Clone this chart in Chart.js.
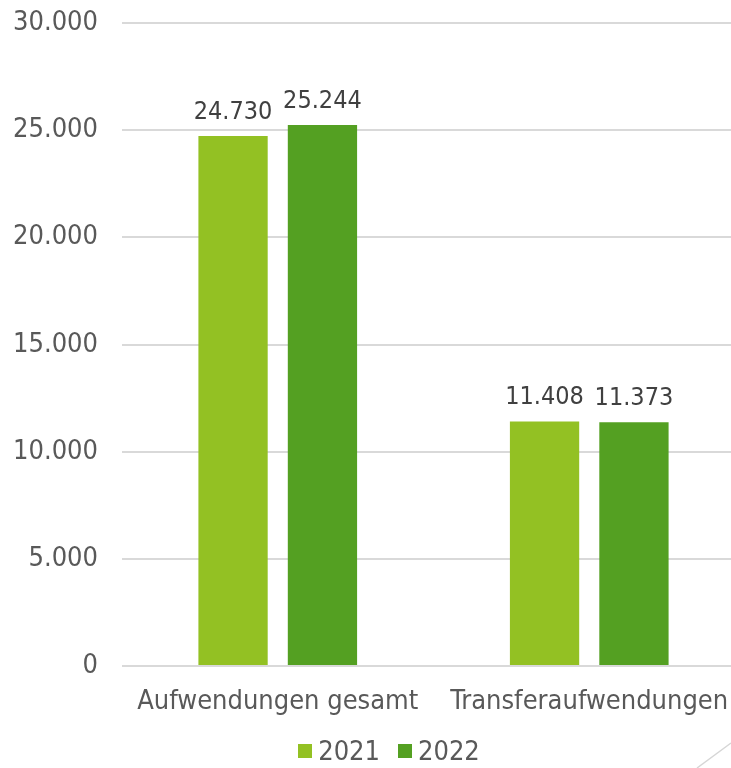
<!DOCTYPE html>
<html>
<head>
<meta charset="utf-8">
<script src="https://cdn.jsdelivr.net/npm/chart.js@4"></script>
<style>
	html, body { margin: 0; padding: 0; background: #fff; overflow: hidden; }
	#wrap { position: relative; width: 778px; height: 768px; }
	#legend { position: absolute; left: 0; top: 735px; width: 778px; display: flex; justify-content: center; font-family: "DejaVu Sans Condensed", "DejaVu Sans", sans-serif; font-size: 27px; color: #595959; }
	#legend span.item { display: flex; align-items: center; margin: 0 9px; }
	#legend span.box { width: 14px; height: 14px; margin-right: 6px; display: inline-block; }
</style>
</head>
<body>
<div id="wrap">
	<canvas id="chart" width="778" height="768"></canvas>
	<div id="legend"></div>
</div>
<script>
// Categories and values
const categories = ["Aufwendungen gesamt", "Transferaufwendungen"];
const values2021 = [24730, 11408];
const values2022 = [25244, 11373];
const seriesNames = ["2021", "2022"];
const colors = ["#93c123", "#54a022"];

const fontFamily = '"DejaVu Sans Condensed", "DejaVu Sans", sans-serif';

// thousands separator with a dot
function fmt(v) {
	return String(v).replace(/\B(?=(\d{3})+(?!\d))/g, ".");
}

// value labels above the bars
const barLabels = {
	id: "barLabels",
	afterDatasetsDraw(chart) {
		const ctx = chart.ctx;
		ctx.save();
		ctx.font = "25px " + fontFamily;
		ctx.fillStyle = "#404040";
		ctx.textAlign = "center";
		ctx.textBaseline = "alphabetic";
		chart.data.datasets.forEach((ds, i) => {
			chart.getDatasetMeta(i).data.forEach((bar, j) => {
				ctx.fillText(fmt(ds.data[j]), bar.x, bar.y - 17);
			});
		});
		ctx.restore();
	},
};

// thin decorative stroke in the lower right corner
const cornerLine = {
	id: "cornerLine",
	afterDraw(chart) {
		const ctx = chart.ctx;
		ctx.save();
		ctx.strokeStyle = "#d6d6d6";
		ctx.lineWidth = 1.5;
		ctx.beginPath();
		ctx.moveTo(697, 768);
		ctx.lineTo(731, 743);
		ctx.stroke();
		ctx.restore();
	},
};

new Chart(document.getElementById("chart"), {
	type: "bar",
	data: {
		labels: categories,
		datasets: [
			{ label: seriesNames[0], data: values2021, backgroundColor: colors[0] },
			{ label: seriesNames[1], data: values2022, backgroundColor: colors[1] },
		],
	},
	options: {
		responsive: false,
		animation: false,
		layout: { padding: { top: 23, right: 33, left: 0, bottom: 0 } },
		datasets: {
			bar: { barPercentage: 0.775, categoryPercentage: 0.574 },
		},
		plugins: {
			legend: { display: false },
			tooltip: { enabled: false },
		},
		scales: {
			x: {
				grid: { display: false },
				border: { display: false },
				ticks: {
					color: "#595959",
					font: { family: fontFamily, size: 27 },
					padding: 12,
					maxRotation: 0,
					autoSkip: false,
				},
				afterFit: s => { s.height = 102; s.paddingLeft = 0; s.paddingRight = 0; },
			},
			y: {
				min: 0,
				max: 30000,
				grid: { color: "#d9d9d9", lineWidth: 2, drawTicks: false },
				border: { display: false },
				ticks: {
					stepSize: 5000,
					color: "#595959",
					font: { family: fontFamily, size: 27 },
					padding: 24,
					callback: v => fmt(v),
				},
				afterFit: s => { s.width = 122; s.paddingTop = 0; s.paddingBottom = 0; },
			},
		},
	},
	plugins: [barLabels, cornerLine],
});

// legend
const legend = document.getElementById("legend");
seriesNames.forEach((name, i) => {
	const item = document.createElement("span");
	item.className = "item";
	item.innerHTML = `<span class="box" style="background:${colors[i]}"></span>${name}`;
	legend.appendChild(item);
});
</script>
</body>
</html>
